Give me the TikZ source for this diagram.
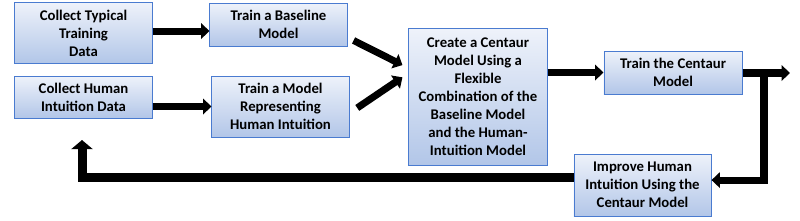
\documentclass[tikz,border=0pt]{standalone}
\usepackage{fontspec}
\setmainfont{Carlito}
\usetikzlibrary{arrows.meta}
\definecolor{boxblue}{HTML}{4A7BD0}
\definecolor{boxtop}{HTML}{EEF2FA}
\definecolor{boxbot}{HTML}{B2C6E8}
\begin{document}
\begin{tikzpicture}[x=0.025cm,y=-0.025cm,
  box/.style={draw=boxblue, line width=0.7pt, top color=boxtop, bottom color=boxbot,
    align=center, inner sep=0pt, minimum width=3.425cm,
    font=\bfseries\fontsize{10.5}{12.8}\selectfont},
  flow/.style={line width=5pt, line join=miter, -{Triangle[length=6pt,width=11pt]}},
  loopflow/.style={line width=6.4pt, line join=miter, -{Triangle[length=6.5pt,width=15pt]}}
]
\useasboundingbox (0,0) rectangle (800,220);
\node[box, minimum height=1.525cm] (A) at (83.5,33) {Collect Typical\\Training\\Data};
\node[box, minimum height=1.075cm] (B) at (278.5,24.5) {Train a Baseline\\Model};
\node[box, minimum height=1.05cm] (C) at (83.5,97) {Collect Human\\Intuition Data};
\node[box, minimum height=1.525cm] (D) at (280.5,106.5) {Train a Model\\Representing\\Human Intuition};
\node[box, minimum width=3.45cm, minimum height=3.4cm] (E) at (478,97) {Create a Centaur\\Model Using a\\Flexible\\Combination of the\\Baseline Model\\and the Human-\\Intuition Model};
\node[box, minimum width=3.45cm, minimum height=1.075cm] (F) at (673,72.5) {Train the Centaur\\Model};
\node[box, minimum height=1.55cm] (G) at (642.5,185) {Improve Human\\Intuition Using the\\Centaur Model};
\coordinate (out) at (790,73);
\coordinate (rdown) at (764,73);
\coordinate (back) at (82,140);
\draw[flow] ([yshift=1.4pt]A.east) -- ([yshift=1.4pt]A.east -| B.west);
\draw[flow] (C.east |- D.west) -- (D.west);
\draw[flow] ([xshift=4.3pt,yshift=4.3pt]B.south east) -- ([xshift=-4.3pt,yshift=22.7pt]E.west);
\draw[flow] ([xshift=5.5pt,yshift=-1pt]D.east) -- ([xshift=-4.3pt,yshift=14pt]E.west);
\draw[flow] (E.east |- F.west) -- (F.west);
\draw[flow] (F.east |- out) -- (out);
\draw[flow] (rdown) |- ([yshift=3.5pt]G.east);
\draw[loopflow] ([yshift=5pt]G.west) -| (back);
\end{tikzpicture}
\end{document}
